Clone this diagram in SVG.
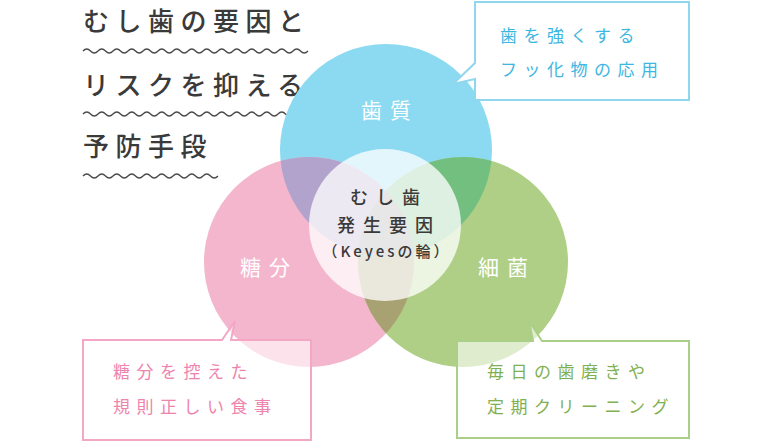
<svg xmlns="http://www.w3.org/2000/svg" width="768" height="442" viewBox="0 0 768 442">
<style>
.ttl{font-family:"Noto Sans CJK JP","Noto Sans",sans-serif;font-size:26px;font-weight:500;fill:#3a3a3a;letter-spacing:6.5px}
.wave{fill:none;stroke:#4a4a4a;stroke-width:1.3}
.cl{font-family:"Noto Sans CJK JP","Noto Sans",sans-serif;font-size:21px;fill:#ffffff;letter-spacing:8px;text-anchor:middle}
.ct{font-family:"Noto Sans CJK JP","Noto Sans",sans-serif;font-size:18px;font-weight:500;fill:#3a3a3a;text-anchor:middle}
.bx{font-family:"Noto Sans CJK JP","Noto Sans",sans-serif;font-size:17px;letter-spacing:6.5px}
</style>
<defs>
<clipPath id="cb"><circle cx="386" cy="150" r="106"/></clipPath>
<clipPath id="cp"><circle cx="309" cy="262" r="105"/></clipPath>
<clipPath id="cg"><circle cx="463" cy="262" r="105"/></clipPath>
</defs>
<rect width="768" height="442" fill="#ffffff"/>

<g id="title">
<text class="ttl" x="83" y="31">むし歯の要因と</text>
<path class="wave" d="M83,51 q3.75,-4 7.5,0 t7.5,0 t7.5,0 t7.5,0 t7.5,0 t7.5,0 t7.5,0 t7.5,0 t7.5,0 t7.5,0 t7.5,0 t7.5,0 t7.5,0 t7.5,0 t7.5,0 t7.5,0 t7.5,0 t7.5,0 t7.5,0 t7.5,0 t7.5,0 t7.5,0 t7.5,0 t7.5,0 t7.5,0 t7.5,0 t7.5,0 t7.5,0 t7.5,0 t7.5,0"/>
<text class="ttl" x="83" y="95">リスクを抑える</text>
<path class="wave" d="M83,114 q3.75,-4 7.5,0 t7.5,0 t7.5,0 t7.5,0 t7.5,0 t7.5,0 t7.5,0 t7.5,0 t7.5,0 t7.5,0 t7.5,0 t7.5,0 t7.5,0 t7.5,0 t7.5,0 t7.5,0 t7.5,0 t7.5,0 t7.5,0 t7.5,0 t7.5,0 t7.5,0 t7.5,0 t7.5,0 t7.5,0 t7.5,0 t7.5,0 t7.5,0 t7.5,0 t7.5,0"/>
<text class="ttl" x="83" y="156">予防手段</text>
<path class="wave" d="M83,176 q3.75,-4 7.5,0 t7.5,0 t7.5,0 t7.5,0 t7.5,0 t7.5,0 t7.5,0 t7.5,0 t7.5,0 t7.5,0 t7.5,0 t7.5,0 t7.5,0 t7.5,0 t7.5,0 t7.5,0 t7.5,0 t7.5,0"/>
</g>

<g id="venn">
<circle cx="386" cy="150" r="106" fill="#8bdaf1"/>
<circle cx="309" cy="262" r="105" fill="#f4b6cd"/>
<circle cx="463" cy="262" r="105" fill="#afcf86"/>
<circle cx="309" cy="262" r="105" fill="#b2a3cd" clip-path="url(#cb)"/>
<circle cx="463" cy="262" r="105" fill="#73bf80" clip-path="url(#cb)"/>
<circle cx="463" cy="262" r="105" fill="#a8a172" clip-path="url(#cp)"/>
<g clip-path="url(#cb)"><circle cx="463" cy="262" r="105" fill="#9a9a9a" clip-path="url(#cp)"/></g>
</g>

<g id="node-center">
<circle cx="385" cy="225" r="76" fill="#ffffff" fill-opacity="0.76"/>
<text class="ct" x="389" y="204" style="letter-spacing:8px">むし歯</text>
<text class="ct" x="389" y="232" style="letter-spacing:8px">発生要因</text>
<text class="ct" x="387" y="257" style="font-size:15px;letter-spacing:3px">（Keyesの輪）</text>
</g>
<g id="node-tooth"><text class="cl" x="390" y="118">歯質</text></g>
<g id="node-sugar"><text class="cl" x="269" y="275">糖分</text></g>
<g id="node-bacteria"><text class="cl" x="507" y="275">細菌</text></g>

<g id="callout-tooth">
<path d="M475,2 H689 V100 H475 V79 L453,84 L475,63 Z" fill="#ffffff" stroke="#8fd6ef" stroke-width="2"/>
<text class="bx" x="500" y="42" fill="#3db6e2">歯を強くする</text>
<text class="bx" x="500" y="76" fill="#3db6e2">フッ化物の応用</text>
</g>
<g id="callout-sugar">
<path d="M83,340 H222 L235,321 L231,340 H311 V440 H83 Z" fill="#ffffff" fill-opacity="0.6" stroke="#f3a7c4" stroke-width="2"/>
<text class="bx" x="113" y="378" fill="#ee84ad">糖分を控えた</text>
<text class="bx" x="113" y="413" fill="#ee84ad">規則正しい食事</text>
</g>
<g id="callout-bacteria">
<path d="M457,341 H533 L529,321 L542,341 H689 V438 H457 Z" fill="#ffffff" fill-opacity="0.6" stroke="#a9cf88" stroke-width="2"/>
<text class="bx" x="487" y="378" fill="#7fb152">毎日の歯磨きや</text>
<text class="bx" x="487" y="413" fill="#7fb152">定期クリーニング</text>
</g>
</svg>
